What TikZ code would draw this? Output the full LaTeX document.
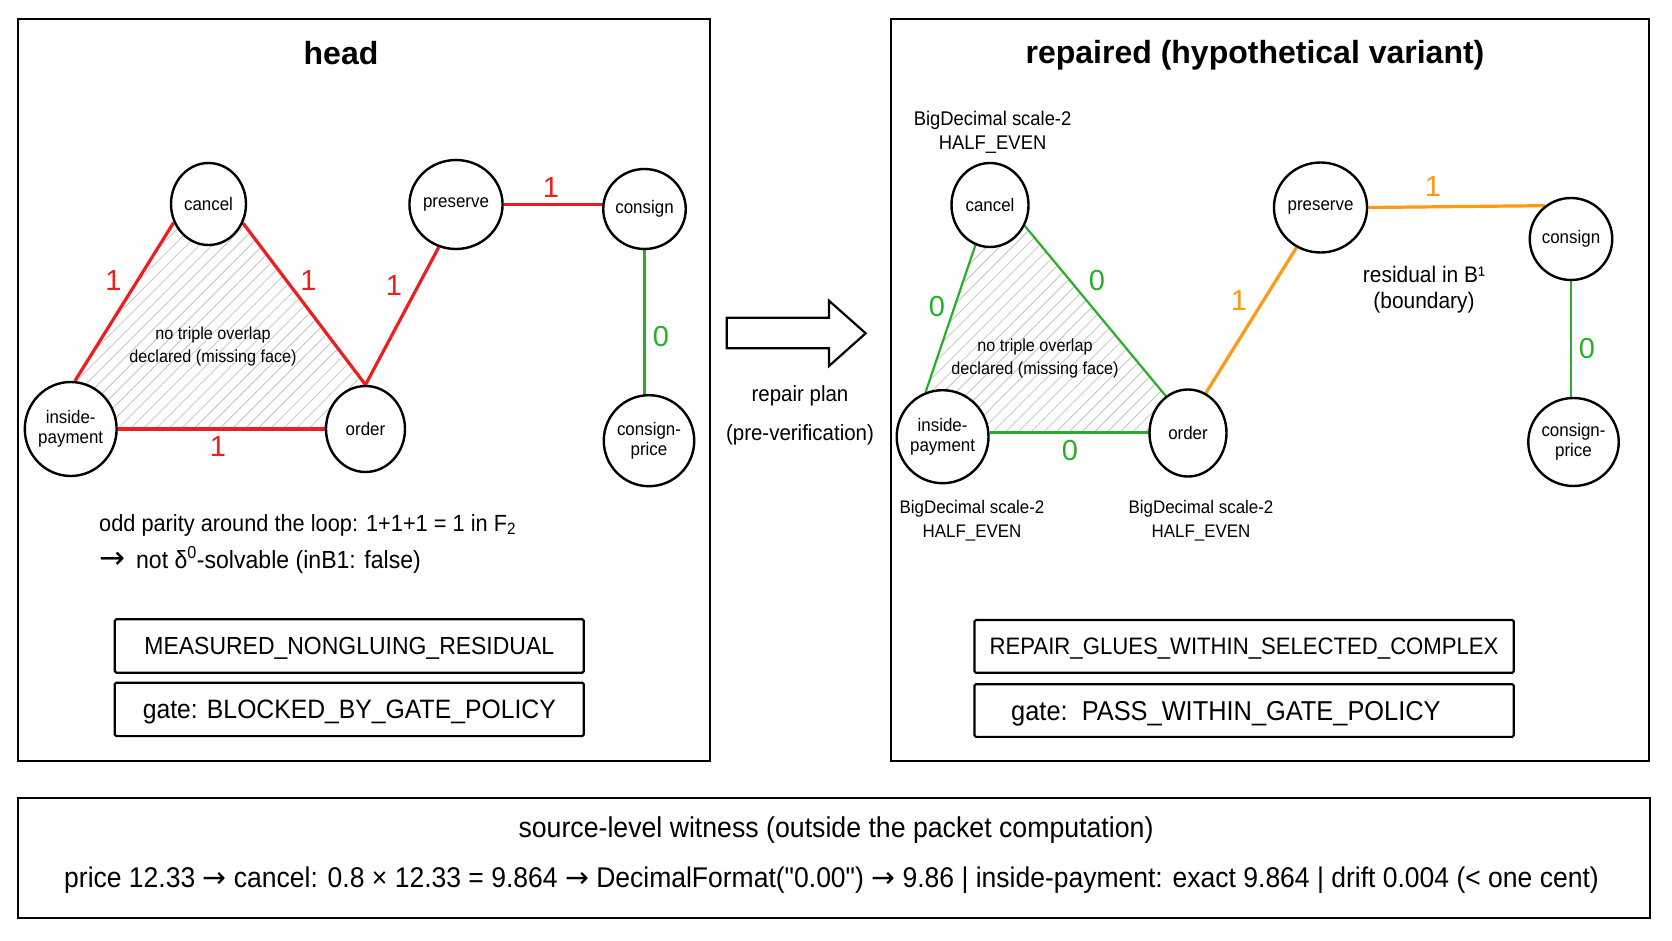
\documentclass[tikz,border=0pt]{standalone}
\usepackage{fontspec}
\setmainfont{Liberation Sans}[FakeStretch=0.93]
\newfontfamily\ttlfont{Liberation Sans}
\newfontfamily\qfont{Liberation Sans}[FakeStretch=0.93]
\newfontfamily\arrfont{DejaVu Sans}
\newcommand{\rarr}{{\arrfont →}}
\newcommand{\sq}{{\qfont"}}
\usetikzlibrary{shapes.geometric,patterns.meta}
\pgfdeclarelayer{paper}
\pgfdeclarelayer{under}
\pgfsetlayers{paper,under,main}
\definecolor{ered}{RGB}{238,30,30}
\definecolor{egreen}{RGB}{40,175,40}
\definecolor{eorange}{RGB}{255,152,20}
\definecolor{hatchgray}{RGB}{195,195,195}
\tikzset{
  vtx/.style={ellipse, draw=black, line width=2.4pt, fill=white, inner sep=0pt, align=center,
              font=\fontsize{18.2}{20.5}\selectfont},
  redge/.style={draw=ered, line width=3.2pt},
  gedge/.style={draw=egreen, line width=2.2pt},
  oedge/.style={draw=eorange, line width=3.2pt},
  elab/.style={font=\ttlfont\fontsize{29}{29}\selectfont},
  panel/.style={draw=black, line width=2pt},
  tagbox/.style={draw=black, line width=2.2pt, rounded corners=1.5pt, inner sep=0pt, text depth=0pt},
  ttl/.style={font=\ttlfont\fontsize{32}{34}\bfseries},
  hatch/.style={pattern={Lines[angle=45,distance=9pt,line width=0.8pt]}, pattern color=hatchgray},
  note/.style={align=center}
}
\begin{document}
\begin{tikzpicture}[x=1pt,y=-1pt,inner sep=0pt]
\useasboundingbox (0,0) rectangle (1672,941);
\begin{pgfonlayer}{paper}
\fill[white] (0,0) rectangle (1672,941);
\end{pgfonlayer}

% ---------- panels ----------
\draw[panel] (17.5,19.5) rectangle (709.5,761);
\draw[panel] (891,19.5) rectangle (1648.5,761);
\draw[panel] (18,798) rectangle (1650,918);

% ---------- left panel ----------
\node[ttl] (ltitle) at (341,53) {head};
\node[vtx, minimum width=75, minimum height=82] (Lcan) at (208.5,204) {cancel};
\node[vtx, minimum width=86, minimum height=89] (Lpre) at (456,204.5) {preserve};
\node[vtx, minimum width=73, minimum height=80] (Lcon) at (644.5,209) {consign};
\node[vtx, minimum width=86, minimum height=94] (Lins) at (70.7,429) {inside-\\payment};
\node[vtx, minimum width=79, minimum height=86] (Lord) at (365.5,429) {order};
\node[vtx, minimum width=82, minimum height=91] (Lcpr) at (649,440.7) {consign-\\price};

\begin{pgfonlayer}{under}
\fill[hatch] (Lcan.-152) -- (Lins.85) -- (Lins.center) -- (Lins.east) -- (Lord.west) -- (Lord.center)
   -- (Lord.north) -- (Lcan.-29) -- (Lcan.center) -- cycle;
\draw[redge] (Lcan.-152) -- (Lins.85);
\draw[redge] (Lcan.-29) -- (Lord.north);
\draw[redge] (Lins.east) -- (Lord.west);
\draw[redge] (Lord.north) -- (Lpre.-112);
\draw[redge] (Lpre.east) -- (Lpre.east -| Lcon.center);
\draw[gedge] (Lcon.south) -- (Lcon.south |- Lcpr.center);
\end{pgfonlayer}

\node[elab, text=ered] (la1) at (113.4,281) {1};
\node[elab, text=ered] (la2) at (308.5,281) {1};
\node[elab, text=ered] (la3) at (218,447) {1};
\node[elab, text=ered] (la4) at (394,286) {1};
\node[elab, text=ered] (la5) at (551,188) {1};
\node[elab, text=egreen] (la6) at (661,337) {0};

\node[note, font=\fontsize{17.4}{23}\selectfont] (lface) at (213,346.5) {no triple overlap\\declared (missing face)};

\node[anchor=west, font=\fontsize{23.4}{24}\selectfont] (par1) at (99,525) {odd parity around the loop: 1+1+1 = 1 in F\textsubscript{2}};
\node[anchor=west, font=\fontsize{24.8}{25}\selectfont] (par2) at (99,560) {{\arrfont\fontsize{31}{31}\selectfont →}\hspace{11pt}not δ\textsuperscript{0}-solvable (inB1: false)};

\node[tagbox, minimum width=469, minimum height=53.4, font=\fontsize{24.7}{25}\selectfont] (lb1) at (349.3,646) {MEASURED\_NONGLUING\_RESIDUAL};
\node[tagbox, minimum width=469, minimum height=53.4, font=\fontsize{26.6}{27}\selectfont] (lb2) at (349.3,709.4) {gate: BLOCKED\_BY\_GATE\_POLICY};

% ---------- middle arrow ----------
\draw[line width=2.2pt, fill=white, line join=miter] (726.7,317.7) -- (829,317.7) -- (829,300.7) -- (865.7,333.3)
   -- (829,366) -- (829,348.3) -- (726.7,348.3) -- cycle;
\node[note, font=\fontsize{22}{39}\selectfont] (plan) at (800,415.5) {repair plan\\(pre-verification)};

% ---------- right panel ----------
\node[ttl] (rtitle) at (1255,55) {repaired (hypothetical variant)};
\node[vtx, minimum width=77, minimum height=84] (Rcan) at (990,205) {cancel};
\node[vtx, minimum width=83, minimum height=90] (Rpre) at (1320.5,207.5) {preserve};
\node[vtx, minimum width=75, minimum height=82] (Rcon) at (1571,239) {consign};
\node[vtx, minimum width=83, minimum height=93] (Rins) at (942.6,436.7) {inside-\\payment};
\node[vtx, minimum width=77, minimum height=87] (Rord) at (1188,433) {order};
\node[vtx, minimum width=77, minimum height=88] (Rcpr) at (1573.5,442) {consign-\\price};

\begin{pgfonlayer}{under}
\fill[hatch] (Rcan.-110) -- (Rins.111) -- (Rins.center) -- (Rins.5) -- (Rins.5 -| Rord.west) -- (Rord.center)
   -- (Rord.121) -- (Rcan.-31) -- (Rcan.center) -- cycle;
\draw[gedge] (Rcan.-110) -- (Rins.111);
\draw[gedge] (Rcan.-31) -- (Rord.121);
\draw[gedge] (Rins.5) -- (Rins.5 -| Rord.center);
\draw[oedge] (Rord.66) -- (Rpre.-121);
\draw[oedge] (Rpre.east) -- (Rcon.128);
\draw[gedge] (Rcon.south) -- (Rcon.south |- Rcpr.center);
\end{pgfonlayer}

\node[elab, text=egreen] (ra1) at (937,307) {0};
\node[elab, text=egreen] (ra2) at (1097,281) {0};
\node[elab, text=egreen] (ra3) at (1070,451) {0};
\node[elab, text=eorange] (ra4) at (1239,301) {1};
\node[elab, text=eorange] (ra5) at (1433,187) {1};
\node[elab, text=egreen] (ra6) at (1587,349) {0};

\node[note, font=\fontsize{17.4}{23}\selectfont] (rface) at (1035,358.5) {no triple overlap\\declared (missing face)};
\node[note, font=\fontsize{19.8}{24}\selectfont] (bd1) at (992.6,132) {BigDecimal scale-2\\HALF\_EVEN};
\node[note, font=\fontsize{18.2}{24}\selectfont] (bd2) at (972,521) {BigDecimal scale-2\\HALF\_EVEN};
\node[note, font=\fontsize{18.2}{24}\selectfont] (bd3) at (1201,521) {BigDecimal scale-2\\HALF\_EVEN};
\node[note, font=\fontsize{22.5}{26}\selectfont] (resid) at (1424,290) {residual in B¹\\(boundary)};

\node[tagbox, minimum width=539.4, minimum height=52.7, font=\fontsize{23.8}{24}\selectfont] (rb1) at (1244.1,646.4) {REPAIR\_GLUES\_WITHIN\_SELECTED\_COMPLEX};
\node[tagbox, minimum width=539.4, minimum height=52.7] (rb2) at (1244.1,710.5) {};
\node[anchor=west, text depth=0pt, font=\fontsize{27.3}{27.3}\selectfont] (rb2t) at (1011,710.5) {gate:\ \ PASS\_WITHIN\_GATE\_POLICY};

% ---------- bottom ----------
\node[font=\fontsize{28.7}{30}\selectfont] (btitle) at (836,830) {source-level witness (outside the packet computation)};
\node[font=\fontsize{28.5}{30}\selectfont] (bline) at (831.5,880) {price 12.33 \rarr\ cancel: 0.8 × 12.33 = 9.864 \rarr\ DecimalFormat(\sq0.00\sq) \rarr\ 9.86 | inside-payment: exact 9.864 | drift 0.004 (< one cent)};
\end{tikzpicture}
\end{document}
